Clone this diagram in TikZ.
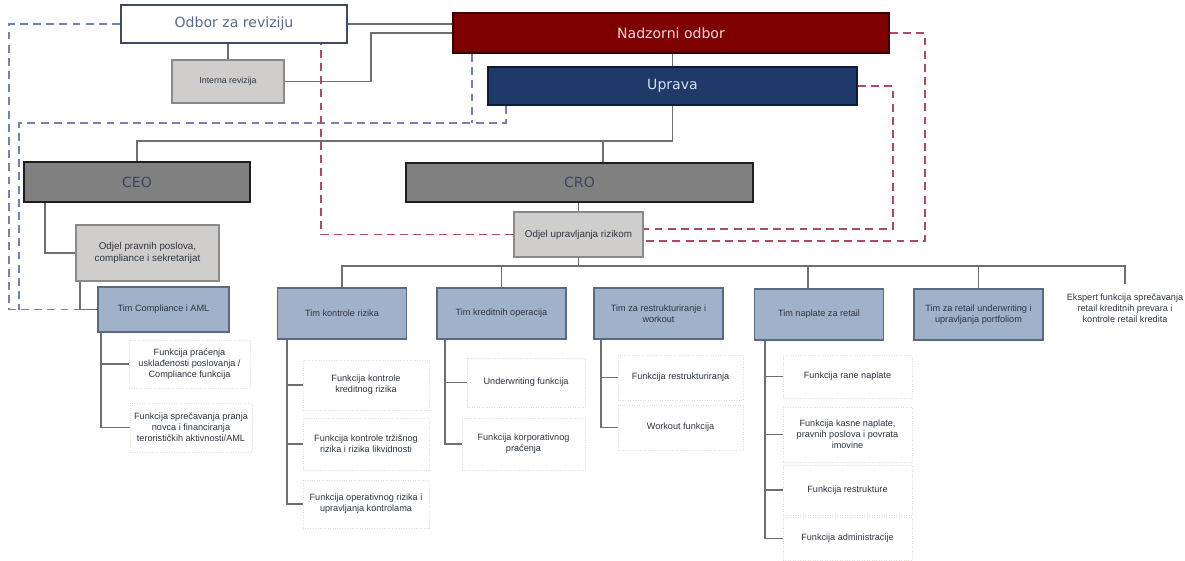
\documentclass[tikz,border=0pt]{standalone}
\usepackage{fontspec}
\setmainfont{Liberation Sans}
\newfontfamily\headfont{DejaVu Sans}
\usepackage{tikz}
\usetikzlibrary{positioning}

\definecolor{odborline}{HTML}{3E4A62}
\definecolor{odbortext}{HTML}{5A6A8A}
\definecolor{nadzorred}{HTML}{7F0000}
\definecolor{nadzorline}{HTML}{3A0000}
\definecolor{nadzortext}{HTML}{F2DADA}
\definecolor{upravablue}{HTML}{1F3A68}
\definecolor{upravaline}{HTML}{0E1C38}
\definecolor{upravatext}{HTML}{D8E2F2}
\definecolor{execgray}{HTML}{808080}
\definecolor{execline}{HTML}{1E1E1E}
\definecolor{exectext}{HTML}{3C4660}
\definecolor{unitgray}{HTML}{D0CECD}
\definecolor{unitline}{HTML}{8A8A8A}
\definecolor{teamblue}{HTML}{9FB2C9}
\definecolor{teamline}{HTML}{5A6A80}
\definecolor{funcline}{HTML}{E4DED6}
\definecolor{textdark}{HTML}{2E3440}
\definecolor{linkgray}{HTML}{6E6E6E}
\definecolor{dashblue}{HTML}{7381B5}
\definecolor{dashred}{HTML}{B04A5E}

\begin{document}
\begin{tikzpicture}[x=0.2mm, y=-0.2mm,
        board/.style={rectangle, draw, line width=1.1pt, inner sep=1pt, font=\headfont\fontsize{8}{9.6}\selectfont},
        unit/.style={rectangle, draw=unitline, fill=unitgray, line width=0.8pt, align=center, inner sep=1pt, text=textdark, font=\fontsize{5.6}{6.8}\selectfont},
        team/.style={rectangle, draw=teamline, fill=teamblue, line width=0.8pt, minimum width=25.8mm, minimum height=10.2mm, align=center, inner sep=1pt, text=textdark, font=\fontsize{5.2}{6.3}\selectfont},
        func/.style={rectangle, draw=funcline, densely dotted, fill=white, minimum width=25mm, minimum height=9.6mm, align=center, inner sep=1pt, text=textdark, font=\fontsize{5.2}{6.3}\selectfont},
        link/.style={draw=linkgray, line width=1pt},
        bluedash/.style={draw=dashblue, line width=1pt, dash pattern=on 4.5pt off 3pt},
        reddash/.style={draw=dashred, line width=1pt, dash pattern=on 4.5pt off 3pt}
    ]
        \useasboundingbox (0,0) rectangle (1185,561);
        % Boards
        \node[board, fill=white, draw=odborline, text=odbortext, minimum width=45.2mm, minimum height=7.6mm] (odbor) at (234,24) {Odbor za reviziju};
        \node[board, fill=nadzorred, draw=nadzorline, text=nadzortext, minimum width=87.2mm, minimum height=8mm] (nadzor) at (671,33) {Nadzorni odbor};
        \node[unit, minimum width=22.4mm, minimum height=8.6mm, font=\fontsize{5}{6}\selectfont] (interna) at (228,81.5) {Interna revizija};
        \node[board, fill=upravablue, draw=upravaline, text=upravatext, minimum width=73.8mm, minimum height=7.6mm] (uprava) at (672.5,86) {Uprava};
        % Executives
        \node[board, fill=execgray, draw=execline, text=exectext, minimum width=45.2mm, minimum height=8mm] (ceo) at (137,182) {CEO};
        \node[board, fill=execgray, draw=execline, text=exectext, minimum width=69.4mm, minimum height=7.8mm] (cro) at (579.5,182.5) {CRO};
        \node[unit, minimum width=28.6mm, minimum height=11.2mm] (pravni) at (147.5,253) {Odjel pravnih poslova,\\ compliance i sekretarijat};
        \node[unit, minimum width=25.8mm, minimum height=9mm] (rizik) at (578.5,234.5) {Odjel upravljanja rizikom};
        % Teams
        \node[team, minimum width=26.2mm, minimum height=9mm] (compl) at (163.5,309.5) {Tim Compliance i AML};
        \node[team] (kontrola) at (342,313.5) {Tim kontrole rizika};
        \node[team] (kreditne) at (501.5,313.5) {Tim kreditnih operacija};
        \node[team] (restr) at (658.5,313.5) {Tim za restrukturiranje i\\ workout};
        \node[team] (naplata) at (819,314.5) {Tim naplate za retail};
        \node[team] (retail) at (978.5,314.5) {Tim za retail underwriting i\\ upravljanja portfoliom};
        \node[func, draw=none] (ekspert) at (1125,308) {Ekspert funkcija sprečavanja\\ retail kreditnih prevara i\\ kontrole retail kredita};
        % Functions
        \node[func, minimum width=24.2mm] (comp1) at (189.5,364) {Funkcija praćenja\\ usklađenosti poslovanja /\\ Compliance funkcija};
        \node[func, minimum width=24.4mm, minimum height=9.8mm] (comp2) at (191,427.5) {Funkcija sprečavanja pranja\\ novca i financiranja\\ terorističkih aktivnosti/AML};
        \node[func, minimum width=25.2mm, minimum height=10mm] (kon1) at (366,385) {Funkcija kontrole\\ kreditnog rizika};
        \node[func, minimum width=25.2mm, minimum height=10.4mm] (kon2) at (366,444) {Funkcija kontrole tržišnog\\ rizika i rizika likvidnosti};
        \node[func, minimum width=25.2mm] (kon3) at (366,504) {Funkcija operativnog rizika i\\ upravljanja kontrolama};
        \node[func, minimum width=23.6mm, minimum height=9.8mm] (kred1) at (526,382.5) {Underwriting funkcija};
        \node[func, minimum width=24.6mm, minimum height=10.4mm] (kred2) at (523.5,444) {Funkcija korporativnog\\ praćenja};
        \node[func, minimum height=9mm] (res1) at (680.5,377.5) {Funkcija restrukturiranja};
        \node[func, minimum height=9mm] (res2) at (680.5,427.5) {Workout funkcija};
        \node[func, minimum width=25.8mm, minimum height=8.6mm] (nap1) at (847.5,376.5) {Funkcija rane naplate};
        \node[func, minimum width=25.8mm, minimum height=11mm] (nap2) at (847.5,434.5) {Funkcija kasne naplate,\\ pravnih poslova i povrata\\ imovine};
        \node[func, minimum width=25.8mm, minimum height=10mm] (nap3) at (847.5,490) {Funkcija restrukture};
        \node[func, minimum width=25.8mm, minimum height=8.6mm] (nap4) at (847.5,538.5) {Funkcija administracije};
        % Helper points
        \coordinate (split) at ([yshift=-7mm]uprava.south);
        \coordinate (crodrop) at ([xshift=4.7mm]cro.north);
        \coordinate (pspine) at ([xshift=1mm]pravni.south west);
        \coordinate (bus) at ([yshift=-1.6mm]rizik.south);
        \coordinate (napdrop) at ([xshift=-2.2mm]naplata.north);
        \coordinate (farleft) at (9,0);
        \coordinate (nearleft) at (19,123);
        \coordinate (nadzdash) at ([xshift=4mm]nadzor.south west);
        \coordinate (redA) at (925,241);
        \coordinate (redB) at (893,229);
        \coordinate (redC) at ([xshift=17.4mm]odbor.south);
        % Solid lines
        \draw[link] (interna.north |- odbor.south) -- (interna.north);
        \draw[link] (odbor.east) -- (odbor.east -| nadzor.west);
        \draw[link] (interna.east) -| ([xshift=-16.2mm]nadzor.west) -- (nadzor.west);
        \draw[link] (uprava.north |- nadzor.south) -- (uprava.north);
        \draw[link] (uprava.south) -- (split) -| (ceo.north);
        \draw[link] (crodrop) -- (crodrop |- split);
        \draw[link] (rizik.north |- cro.south) -- (rizik.north);
        \draw[link] ([xshift=4.4mm]ceo.south west) |- (pravni.west);
        \draw[link] (pspine) |- (compl.west);
        \draw[link] (rizik.south) -- (bus);
        \draw[link] (kontrola.north) |- (bus) -| (ekspert.north);
        \draw[link] (kreditne.north) -- (kreditne.north |- bus);
        \draw[link] (napdrop) -- (napdrop |- bus);
        \draw[link] (retail.north) -- (retail.north |- bus);
        % Team branches
        \draw[link] ([xshift=0.8mm]compl.south west) |- (comp1.west);
        \draw[link] ([xshift=0.8mm]compl.south west) |- (comp2.west);
        \draw[link] ([xshift=2mm]kontrola.south west) |- (kon1.west);
        \draw[link] ([xshift=2mm]kontrola.south west) |- (kon2.west);
        \draw[link] ([xshift=2mm]kontrola.south west) |- (kon3.west);
        \draw[link] ([xshift=1.8mm]kreditne.south west) |- (kred1.west);
        \draw[link] ([xshift=1.8mm]kreditne.south west) |- (kred2.west);
        \draw[link] ([xshift=1.6mm]restr.south west) |- (res1.west);
        \draw[link] ([xshift=1.6mm]restr.south west) |- (res2.west);
        \draw[link] ([xshift=2.2mm]naplata.south west) |- (nap1.west);
        \draw[link] ([xshift=2.2mm]naplata.south west) |- (nap2.west);
        \draw[link] ([xshift=2.2mm]naplata.south west) |- (nap3.west);
        \draw[link] ([xshift=2.2mm]naplata.south west) |- (nap4.west);
        % Dashed reporting lines
        \draw[bluedash] (odbor.west) -| (farleft |- compl.west) -- (pspine |- compl.west);
        \draw[bluedash] ([xshift=3.8mm]uprava.south west) |- (nearleft) -- (nearleft |- compl.west);
        \draw[bluedash] (nadzdash) -- (nadzdash |- nearleft);
        \draw[reddash] (nadzor.east) -| (redA) -- (redA -| rizik.east);
        \draw[reddash] (uprava.east) -| (redB) -- (redB -| rizik.east);
        \draw[reddash] (rizik.west) -| (redC);
    \end{tikzpicture}
\end{document}
